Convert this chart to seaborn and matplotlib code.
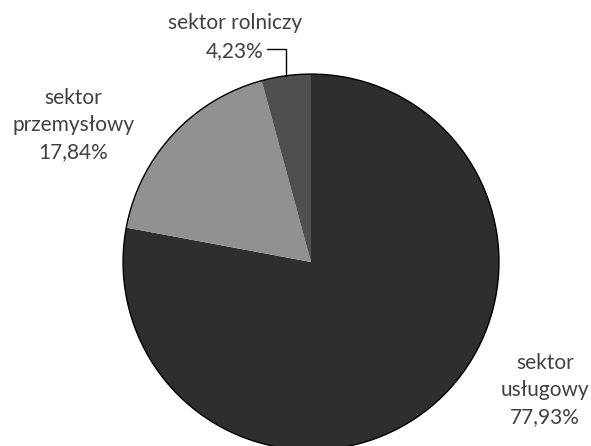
import numpy as np
import seaborn as sns
import matplotlib.pyplot as plt

# Sector shares (percent), clockwise from 12 o'clock
sectors = ['sektor\nusługowy', 'sektor\nprzemysłowy', 'sektor rolniczy']
shares = [77.93, 17.84, 4.23]
share_labels = ['77,93%', '17,84%', '4,23%']
colors = ['#2e2e2e', '#919191', '#4f4f4f']

sns.set_theme(style='white')
plt.rcParams['font.family'] = ['Lato', 'DejaVu Sans']

fig = plt.figure(figsize=(5.91, 4.46), dpi=100)
ax = fig.add_axes([0, 0, 1, 1])

# Draw the pie, no inner edges
wedges, _ = ax.pie(shares, colors=colors, startangle=90, counterclock=False,
                   radius=1, wedgeprops=dict(linewidth=0))

# Outer outline only
ax.add_patch(plt.Circle((0, 0), 1, fill=False, edgecolor='black', linewidth=1))

# Label positions (data coords)
label_pos = [(1.245, -0.681), (-1.266, 0.729), (-0.404, 1.197)]
text_color = '#404040'
for name, pct, (x, y) in zip(sectors, share_labels, label_pos):
    ax.text(x, y, name + '\n' + pct, ha='center', va='center',
            fontsize=15, color=text_color, linespacing=1.45)

# Leader line for the small slice
w = wedges[2]
ang = np.deg2rad((w.theta1 + w.theta2) / 2)
ex, ey = np.cos(ang), np.sin(ang)
ax.plot([-0.234, ex, ex], [1.133, 1.133, ey], color='black', linewidth=1)

ax.set_xlim(-1.654, 1.489)
ax.set_ylim(-0.979, 1.394)
ax.set_aspect('equal')
ax.axis('off')

plt.savefig('out.png', dpi=100)
